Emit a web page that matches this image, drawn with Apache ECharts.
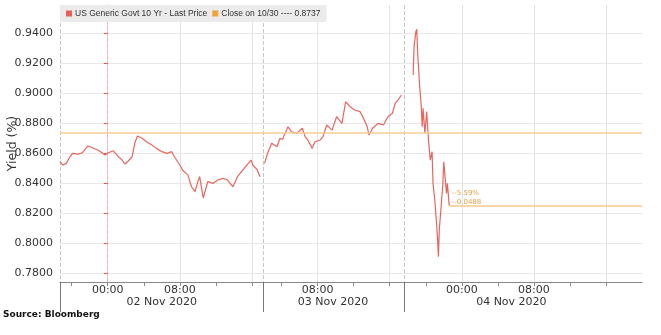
<!DOCTYPE html>
<html>
<head>
<meta charset="utf-8">
<script src="https://cdn.jsdelivr.net/npm/echarts@6/dist/echarts.min.js"></script>
<style>
html, body { margin: 0; padding: 0; background: #fff; }
#chart { width: 661px; height: 335px; }
</style>
</head>
<body>
<div id="chart"></div>
<script>
var seriesName = 'US Generic Govt 10 Yr - Last Price';
var closeName = 'Close on 10/30 ---- 0.8737';
var closeValue = 0.8737;

// x = chart hours, 02 Nov 00:00 = 0 (overnight gaps are cut out like on the terminal)
var hours = [
  -5.3, -5.0, -4.6, -4.2, -3.9, -3.3, -2.8, -2.2, -1.7, -1.1, -0.3, 0, 0.6, 1.0, 1.6, 1.9, 2.2, 2.7,
  3.0, 3.3, 3.8, 4.3, 4.9, 5.4, 6.0, 6.6, 7.1, 7.4, 8.0, 8.3, 8.9, 9.3, 9.7, 10.0, 10.2, 10.6,
  11.1, 11.7, 12.2, 12.8, 13.3, 13.9, 14.4, 15.0, 15.6, 15.9, 16.1, 16.6, 16.9,
  17.3,
  17.4, 17.8, 18.2, 18.8, 19.1, 19.4, 20.0, 20.4, 21.0, 21.6, 21.9, 22.2, 22.7, 23.0, 23.6, 23.9,
  24.3, 24.9, 25.4, 26.0, 26.4, 26.9, 27.4, 28.0, 28.3, 28.8, 29.0, 29.4, 30.0, 30.6, 31.1, 31.6,
  31.9, 32.2, 32.6,
  33.2,
  33.9, 34.0, 34.2, 34.3, 34.4, 34.6, 34.8, 34.9, 35.0, 35.2, 35.4, 35.6, 35.8, 36.0, 36.1, 36.3,
  36.6, 36.7, 36.8, 37.0, 37.2, 37.3, 37.6, 37.7, 37.9
];
var yields = [
  0.8542, 0.8520, 0.8531, 0.8575, 0.8598, 0.8593, 0.8602, 0.8647, 0.8635, 0.8620, 0.8587, 0.8600, 0.8615, 0.8587, 0.8553, 0.8527, 0.8542, 0.8575,
  0.8665, 0.8713, 0.8698, 0.8675, 0.8653, 0.8631, 0.8609, 0.8598, 0.8609, 0.8575, 0.8520, 0.8487, 0.8453, 0.8375, 0.8342, 0.8409, 0.8442, 0.8300,
  0.8409, 0.8398, 0.8420, 0.8431, 0.8420, 0.8375, 0.8442, 0.8487, 0.8531, 0.8553, 0.8520, 0.8487, 0.8442,
  null,
  0.8531, 0.8609, 0.8665, 0.8642, 0.8698, 0.8691, 0.8775, 0.8742, 0.8731, 0.8765, 0.8709, 0.8687, 0.8631, 0.8675, 0.8687, 0.8709,
  0.8787, 0.8753, 0.8842, 0.8798, 0.8942, 0.8909, 0.8887, 0.8876, 0.8842, 0.8775, 0.8720, 0.8765, 0.8798, 0.8787, 0.8842, 0.8865,
  0.8931, 0.8953, 0.8987,
  null,
  0.9120, 0.9309, 0.9409, 0.9425, 0.9265, 0.9065, 0.8909, 0.8775, 0.8898, 0.8731, 0.8876, 0.8687, 0.8553, 0.8609, 0.8398, 0.8287,
  0.8042, 0.7909, 0.8087, 0.8242, 0.8398, 0.8542, 0.8331, 0.8398, 0.8249
];

var xMin = -5.3, xMax = 59.3;
var yMin = 0.774, yMax = 0.9587;
var yTicks = [0.78, 0.80, 0.82, 0.84, 0.86, 0.88, 0.90, 0.92, 0.94];
var hourTicks = [-4, 0, 4, 8, 12, 16, 19.3, 23.3, 27.3, 31.3, 35.3, 39.3, 43.3, 47.3, 51.3, 55.3];
var gridHours = [0, 8, 16, 23.3, 31.3, 39.3, 47.3, 55.3];
var timeLabelPos = [0, 8, 23.3, 39.3, 47.3];
var timeLabels = ['00:00', '08:00', '08:00', '00:00', '08:00'];
var sessionBreaks = [-5.3, 17.3, 32.9];
var dateLabelPos = [6.0, 25.0, 44.8];
var dateLabels = ['02 Nov 2020', '03 Nov 2020', '04 Nov 2020'];

var points = hours.map(function (h, i) {
  return [h, yields[i] === null ? '-' : yields[i]];
});
var lastHour = hours[hours.length - 1];
var lastYield = yields[yields.length - 1];
var change = lastYield - closeValue;
var changePct = change / closeValue * 100;

var font = 'DejaVu Sans';
var chart = echarts.init(document.getElementById('chart'));
chart.setOption({
  animation: false,
  grid: { left: 60, right: 19, top: 5, bottom: 53, outerBoundsMode: 'none' },
  legend: {
    left: 60, top: 5,
    padding: [4, 6, 4, 6],
    backgroundColor: '#ebebeb',
    itemGap: 5, itemWidth: 6, itemHeight: 6,
    icon: 'rect',
    textStyle: { fontSize: 8.5, color: '#333', fontFamily: 'Liberation Sans', padding: [0, 0, 0, -2] },
    data: [seriesName, closeName]
  },
  graphic: [{
    type: 'text', left: 3, top: 310,
    style: { text: 'Source: Bloomberg', font: 'bold 9px DejaVu Sans', fill: '#111' }
  }],
  xAxis: [{
    type: 'value', min: xMin, max: xMax, position: 'bottom',
    axisLine: { lineStyle: { color: '#888' } },
    axisTick: { customValues: hourTicks, length: 4, lineStyle: { color: '#888' } },
    axisLabel: {
      customValues: timeLabelPos, margin: 3, fontSize: 11, color: '#333', fontFamily: font,
      formatter: function (v) { return timeLabels[timeLabelPos.indexOf(v)]; }
    },
    splitLine: { show: false }
  }, {
    type: 'value', min: xMin, max: xMax, position: 'bottom',
    axisLine: { show: false },
    axisTick: { show: false, customValues: gridHours },
    axisLabel: { show: false },
    splitLine: { show: true, lineStyle: { color: '#e3e3e3' } }
  }, {
    type: 'value', min: xMin, max: xMax, position: 'bottom',
    axisLine: { show: false },
    axisTick: { customValues: sessionBreaks, length: 30, lineStyle: { color: '#777' } },
    axisLabel: {
      customValues: dateLabelPos, margin: 15, fontSize: 11, color: '#333', fontFamily: font,
      formatter: function (v) { return dateLabels[dateLabelPos.indexOf(v)]; }
    },
    splitLine: { show: true, lineStyle: { color: '#c6c6c6', type: 'dashed' } }
  }],
  yAxis: {
    type: 'value', min: yMin, max: yMax,
    name: 'Yield (%)', nameLocation: 'middle', nameGap: 41, nameRotate: 90, nameMoveOverlap: false,
    nameTextStyle: { fontSize: 12.5, color: '#333', fontFamily: font },
    axisLine: { show: true, lineStyle: { color: '#f0b4b4', type: 'dashed' } },
    axisTick: { customValues: yTicks, length: 4, lineStyle: { color: '#e05a5a' } },
    axisLabel: {
      customValues: yTicks, margin: 7, fontSize: 11, color: '#333', fontFamily: font,
      formatter: function (v) { return v.toFixed(4); }
    },
    splitLine: { show: true, lineStyle: { color: '#e8e8e8' } }
  },
  series: [{
    name: seriesName,
    type: 'line',
    data: points,
    showSymbol: false,
    connectNulls: false,
    itemStyle: { color: '#e8605a' },
    lineStyle: { color: '#e8655e', width: 1.2 },
    markLine: {
      silent: true, symbol: 'none', label: { show: false }, precision: 6,
      lineStyle: { color: '#f6c887', width: 1.5, type: 'solid' },
      data: [[{ coord: [lastHour, lastYield] }, { coord: [xMax, lastYield] }]]
    },
    markPoint: {
      silent: true, symbol: 'rect', symbolSize: 1,
      itemStyle: { color: 'rgba(0,0,0,0)' },
      label: {
        show: true, position: 'right', distance: 2, offset: [0, -8],
        fontSize: 7, lineHeight: 9, color: '#e6a248', fontFamily: font,
        formatter: '-' + changePct.toFixed(2) + '%\n-' + change.toFixed(4)
      },
      data: [{ coord: [lastHour, lastYield] }]
    }
  }, {
    name: closeName,
    type: 'line',
    data: [],
    itemStyle: { color: '#eea33c' },
    markLine: {
      silent: true, symbol: 'none', label: { show: false }, precision: 6,
      lineStyle: { color: '#f8cc90', width: 1.5, type: 'solid' },
      data: [{ yAxis: closeValue }]
    }
  }]
});
</script>
</body>
</html>
